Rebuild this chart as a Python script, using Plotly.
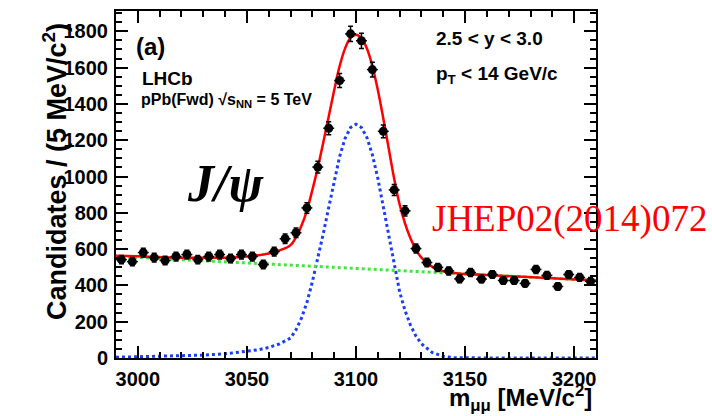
import plotly.graph_objects as go

# ---------------- data ----------------
mass = [2992.5, 2997.5, 3002.5, 3007.5, 3012.5, 3017.5, 3022.5, 3027.5, 3032.5, 3037.5,
        3042.5, 3047.5, 3052.5, 3057.5, 3062.5, 3067.5, 3072.5, 3077.5, 3082.5, 3087.5,
        3092.5, 3097.5, 3102.5, 3107.5, 3112.5, 3117.5, 3122.5, 3127.5, 3132.5, 3137.5,
        3142.5, 3147.5, 3152.5, 3157.5, 3162.5, 3167.5, 3172.5, 3177.5, 3182.5, 3187.5,
        3192.5, 3197.5, 3202.5, 3207.5]
counts = [542, 531, 581, 553, 537, 559, 570, 542, 559, 570,
          548, 570, 559, 515, 586, 657, 690, 827, 1052, 1266,
          1529, 1786, 1748, 1589, 1249, 926, 811, 603, 526, 499,
          480, 436, 471, 435, 460, 427, 427, 411, 488, 455,
          394, 460, 444, 422]
count_err = [23, 23, 24, 24, 23, 24, 24, 23, 24, 24,
             23, 24, 24, 23, 24, 26, 26, 29, 32, 36,
             39, 42, 42, 40, 35, 30, 28, 25, 23, 22,
             22, 21, 22, 21, 21, 21, 21, 20, 22, 21,
             20, 21, 21, 21]
half_bin = [2.5] * len(mass)

curve_m = [2990, 3000, 3010, 3020, 3030, 3040, 3050, 3055, 3060, 3065,
           3070, 3072.5, 3075, 3077.5, 3080, 3082.5, 3085, 3087.5, 3090, 3092.5,
           3095, 3097.5, 3100, 3102.5, 3105, 3107.5, 3110, 3112.5, 3115, 3117.5,
           3120, 3122.5, 3125, 3127.5, 3130, 3135, 3140, 3145, 3150, 3160, 3210]
signal = [4, 6, 8, 11, 16, 23, 35, 45, 58, 78,
          110, 155, 220, 305, 420, 545, 685, 830, 975, 1110,
          1210, 1270, 1288, 1270, 1215, 1120, 990, 835, 670, 505,
          365, 260, 180, 120, 78, 30, 9, 2, 0.5, 0, 0]
total = [564, 560, 556, 553, 552, 553, 559, 566, 576, 593,
         622, 665, 729, 812, 926, 1049, 1188, 1331, 1475, 1608,
         1706, 1765, 1781, 1762, 1705, 1609, 1477, 1321, 1154, 988,
         846, 740, 658, 597, 553, 502, 478, 468, 463, 457, 427]
bkg_m = [2990, 3210]
background = [560, 427]

x_ticks = [3000, 3050, 3100, 3150, 3200]
y_ticks = [0, 200, 400, 600, 800, 1000, 1200, 1400, 1600, 1800]

# ---------------- figure ----------------
W, H = 712, 416
L, R, T, B = 116, 116, 9, 58
pw, ph = W - L - R, H - T - B


def px(x):
    return (x - L) / pw


def py(y):
    return (H - B - y) / ph


fig = go.Figure()
fig.add_trace(go.Scatter(x=curve_m, y=signal, mode="lines",
                         line=dict(color="#1a3cff", width=3, dash="dot"),
                         hoverinfo="skip", showlegend=False))
fig.add_trace(go.Scatter(x=bkg_m, y=background, mode="lines",
                         line=dict(color="#3ee83a", width=3, dash="dot"),
                         hoverinfo="skip", showlegend=False))
fig.add_trace(go.Scatter(x=curve_m, y=total, mode="lines", line_shape="spline",
                         line=dict(color="#ff0000", width=2.5),
                         hoverinfo="skip", showlegend=False))
fig.add_trace(go.Scatter(x=mass, y=counts, mode="markers",
                         marker=dict(color="black", size=9, symbol="circle"),
                         error_y=dict(type="data", array=count_err, color="black",
                                      thickness=1.5, width=2.5),
                         error_x=dict(type="data", array=half_bin, color="black",
                                      thickness=1.5, width=0),
                         showlegend=False))

axis_common = dict(showline=True, linecolor="black", linewidth=2, mirror="ticks",
                   ticks="inside", tickcolor="black", tickwidth=1.5, ticklen=12,
                   showgrid=False, zeroline=False,
                   tickfont=dict(family="Liberation Sans", size=20, color="black",
                                 weight="bold"))

fig.update_xaxes(range=[2990, 3210], tickvals=x_ticks, ticktext=[str(v) for v in x_ticks],
                 minor=dict(ticks="inside", dtick=10, tick0=3000, ticklen=6,
                            tickwidth=1.5, tickcolor="black", showgrid=False),
                 ticklabelstandoff=2, **axis_common)
fig.update_yaxes(range=[0, 1912], tickvals=y_ticks, ticktext=[str(v) for v in y_ticks],
                 minor=dict(ticks="inside", dtick=50, tick0=0, ticklen=6,
                            tickwidth=1.5, tickcolor="black", showgrid=False),
                 ticklabelstandoff=2, **axis_common)

bold = dict(family="Liberation Sans", color="black")
ann = [
    dict(x=px(55), y=py(171), text="<b>Candidates / (5 MeV/c<sup>2</sup>)</b>",
         textangle=-90, font=dict(size=27, **bold)),
    dict(x=px(594), y=py(398), text="<b>m<sub>μμ</sub> [MeV/c<sup>2</sup>]</b>",
         xanchor="right", font=dict(size=24, **bold)),
    dict(x=px(150), y=py(45), text="<b>(a)</b>", font=dict(size=24, **bold)),
    dict(x=px(140), y=py(77), text="<b>LHCb</b>", xanchor="left",
         font=dict(size=19, **bold)),
    dict(x=px(139), y=py(99), text="<b>pPb(Fwd) √s<sub>NN</sub> = 5 TeV</b>",
         xanchor="left", font=dict(size=16, **bold)),
    dict(x=px(434), y=py(37), text="<b>2.5 < y < 3.0</b>", xanchor="left",
         font=dict(size=19, **bold)),
    dict(x=px(434), y=py(73), text="<b>p<sub>T</sub> < 14 GeV/c</b>", xanchor="left",
         font=dict(size=19, **bold)),
    dict(x=px(225), y=py(182), text="<b><i>J/ψ</i></b>",
         font=dict(family="Liberation Serif", size=52, color="black")),
    dict(x=px(569), y=py(218), text="JHEP02(2014)072",
         font=dict(family="Liberation Serif", size=37, color="#ff0000")),
]
for a in ann:
    a.setdefault("xref", "paper")
    a.setdefault("yref", "paper")
    a.setdefault("showarrow", False)
    a.setdefault("xanchor", "center")
    a.setdefault("yanchor", "middle")
fig.update_layout(annotations=ann)

fig.update_layout(width=W, height=H, margin=dict(l=L, r=R, t=T, b=B),
                  paper_bgcolor="white", plot_bgcolor="white")

fig.write_html("out.html")
